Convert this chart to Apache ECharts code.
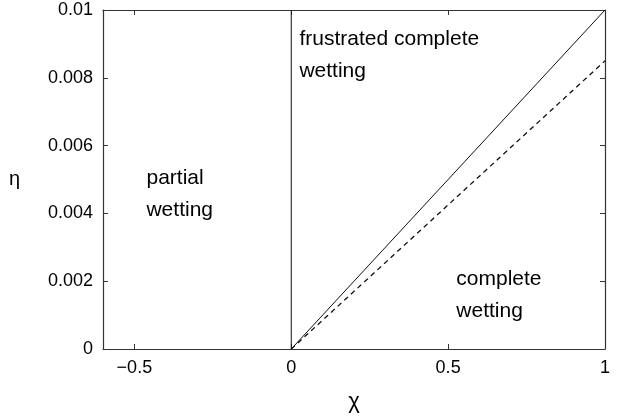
<!DOCTYPE html>
<html>
<head>
<meta charset="utf-8">
<script src="https://cdn.jsdelivr.net/npm/echarts@6/dist/echarts.min.js"></script>
<style>html,body{margin:0;padding:0;background:#fff}#c{width:620px;height:418px}</style>
</head>
<body>
<div id="c"></div>
<script>
const xTicks = [-0.5, 0, 0.5, 1];
const yTicks = [0, 0.002, 0.004, 0.006, 0.008, 0.01];
const boundaryVertical = [[0, 0], [0, 0.01]];
const boundarySolid = [[0, 0], [1, 0.01]];
const boundaryDashed = [[0, 0], [1, 0.0085]];
const regionLabels = [
  { text: 'frustrated complete\nwetting', x: 0.026, y: 0.00866 },
  { text: 'partial\nwetting', x: -0.4615, y: 0.00458 },
  { text: 'complete\nwetting', x: 0.526, y: 0.00158 }
];

const font = '"Liberation Sans", Arial, Helvetica, sans-serif';
const axisColor = '#333';
const chart = echarts.init(document.getElementById('c'));
const fmtX = v => String(v).replace('-', '\u2212');
chart.setOption({
  animation: false,
  grid: { left: 103, right: 15, top: 10, bottom: 65 },
  xAxis: [{
    type: 'value', min: -0.6, max: 1, position: 'bottom',
    name: 'χ', nameLocation: 'middle', nameGap: 42,
    nameTextStyle: { fontFamily: font, fontSize: 22, color: '#000' },
    axisLine: { onZero: false, lineStyle: { color: axisColor, width: 1.2 } },
    axisTick: { inside: true, length: 5, customValues: xTicks, lineStyle: { color: axisColor } },
    axisLabel: { customValues: xTicks, formatter: fmtX, fontFamily: font, fontSize: 18, color: '#000', margin: 10 },
    splitLine: { show: false }
  }, {
    type: 'value', min: -0.6, max: 1, position: 'top',
    axisLine: { show: true, onZero: false, lineStyle: { color: axisColor, width: 1.2 } },
    axisTick: { show: true, inside: true, length: 5, customValues: xTicks, lineStyle: { color: axisColor } },
    axisLabel: { show: false },
    splitLine: { show: false }
  }],
  yAxis: [{
    type: 'value', min: 0, max: 0.01, interval: 0.002, position: 'left',
    name: 'η', nameLocation: 'middle', nameGap: 83, nameRotate: 0,
    nameTextStyle: { fontFamily: font, fontSize: 20, color: '#000' },
    axisLine: { show: true, onZero: false, lineStyle: { color: axisColor, width: 1.2 } },
    axisTick: { show: true, inside: true, length: 5, lineStyle: { color: axisColor } },
    axisLabel: { fontFamily: font, fontSize: 18, color: '#000', margin: 10 },
    splitLine: { show: false }
  }, {
    type: 'value', min: 0, max: 0.01, interval: 0.002, position: 'right',
    axisLine: { show: true, onZero: false, lineStyle: { color: axisColor, width: 1.2 } },
    axisTick: { show: true, inside: true, length: 5, lineStyle: { color: axisColor } },
    axisLabel: { show: false },
    splitLine: { show: false }
  }],
  series: [
    { type: 'line', data: boundaryVertical, symbol: 'none', lineStyle: { color: '#111', width: 1 } },
    { type: 'line', data: boundarySolid, symbol: 'none', lineStyle: { color: '#111', width: 1 } },
    { type: 'line', data: boundaryDashed, symbol: 'none', lineStyle: { color: '#111', width: 1.3, type: [5, 4] } },
    {
      type: 'scatter', symbolSize: 0, silent: true,
      itemStyle: { opacity: 1 },
      data: regionLabels.map(d => ({ value: [d.x, d.y], name: d.text })),
      label: {
        show: true, position: 'inside', align: 'left', verticalAlign: 'middle',
        formatter: p => p.name, fontFamily: font, fontSize: 21, lineHeight: 32,
        color: '#000', textBorderWidth: 0, textBorderColor: 'transparent'
      }
    }
  ]
});
</script>
</body>
</html>
